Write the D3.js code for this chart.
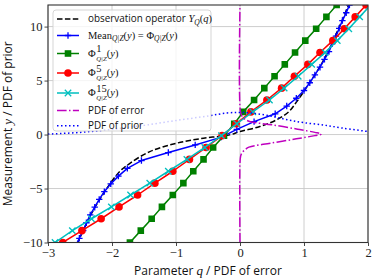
<!DOCTYPE html>
<html><head><meta charset="utf-8">
<script src="https://cdn.jsdelivr.net/npm/d3@7"></script>
<style>
html,body{margin:0;padding:0;background:#fff;}
svg{display:block;}
.tick text{font-family:"Liberation Serif","DejaVu Serif",serif;font-size:12.5px;fill:#222;}
.lab{font-family:"Open Sans","Noto Sans",sans-serif;font-size:12px;fill:#111;}
.leg{font-family:"Open Sans","Noto Sans",sans-serif;font-size:9.9px;fill:#111;}
.legm{font-family:"Liberation Serif","DejaVu Serif",serif;font-size:10.5px;fill:#111;}
</style></head>
<body><svg id="c" width="374" height="280"></svg>
<script>
// ---- data ----
const xTicks = [-3, -2, -1, 0, 1, 2];
const yTicks = [-10, -5, 0, 5, 10];
// observation operator Y_Q(q)
const obsQ = [-2.60, -2.45, -2.32, -2.18, -2.03, -1.95, -1.85, -1.72, -1.41, -0.99, -0.57, -0.16, 0.00, 0.31, 0.57, 0.76, 0.89, 1.02, 1.28, 1.46, 1.59, 1.74];
const obsY = [-10.8, -8.9, -7.3, -5.9, -4.55, -3.9, -3.25, -2.66, -1.58, -0.80, -0.34, -0.03, 0.28, 0.74, 1.36, 2.10, 3.07, 4.20, 6.60, 8.75, 10.5, 12.6];
// conditional mean
const meanY = [-10.33, -9.61, -8.89, -8.17, -7.45, -6.73, -6.01, -5.29, -4.57, -3.85, -3.13, -2.41, -1.67, -0.96, -0.24, 0.48, 1.20, 1.92, 2.64, 3.36, 4.08, 4.80, 5.52, 6.24, 6.96, 7.68, 8.40, 9.12, 9.84, 10.56, 11.28, 12.00, 12.72];
const meanQ = [-2.57, -2.51, -2.45, -2.40, -2.34, -2.27, -2.20, -2.12, -2.02, -1.90, -1.76, -1.54, -1.12, -0.70, -0.29, -0.05, 0.22, 0.55, 0.73, 0.88, 1.00, 1.09, 1.17, 1.25, 1.32, 1.39, 1.44, 1.50, 1.55, 1.60, 1.66, 1.71, 1.76];
// Phi curves on measurement grid
const phiY = [-11.1, -10.0, -8.9, -7.8, -6.7, -5.6, -4.5, -3.4, -2.3, -1.2, -0.1, 1.0, 2.1, 3.2, 4.3, 5.4, 6.5, 7.6, 8.7, 9.8, 10.9, 12.0, 13.1];
const phi1Q = [-1.88, -1.72, -1.55, -1.38, -1.22, -1.05, -0.885, -0.73, -0.57, -0.42, -0.25, -0.09, 0.05, 0.22, 0.38, 0.54, 0.70, 0.86, 1.02, 1.19, 1.35, 1.51, 1.67];
const phi5Q = [-3.05, -2.77, -2.47, -2.17, -1.89, -1.60, -1.33, -1.05, -0.79, -0.53, -0.28, -0.06, 0.17, 0.42, 0.65, 0.85, 1.06, 1.25, 1.45, 1.63, 1.80, 1.97, 2.15];
const phi15Q = [-3.15, -2.89, -2.62, -2.32, -2.01, -1.71, -1.41, -1.12, -0.83, -0.55, -0.29, -0.05, 0.20, 0.46, 0.69, 0.91, 1.12, 1.33, 1.52, 1.70, 1.87, 2.04, 2.20];
// PDF of error (value on q axis, over y)
const errY = [-10, -2.6, -2.0, -1.7, -1.45, -1.17, -0.8, -0.4, -0.1, 0.04, 0.2, 0.5, 0.9, 1.21, 1.45, 1.7, 2.2, 12];
const errPdf = [0, 0, 0.01, 0.03, 0.07, 0.14, 0.48, 0.88, 1.17, 1.27, 1.17, 0.90, 0.50, 0.15, 0.07, 0.03, 0.005, 0];
// PDF of prior (over q)
const priQ = [-3.0, -2.5, -2.0, -1.5, -1.0, -0.5, -0.2, 0.0, 0.2, 0.4, 0.6, 0.8, 1.0, 1.3, 1.6, 2.0];
const priPdf = [0.04, 0.20, 0.48, 0.85, 1.30, 1.72, 2.00, 2.05, 1.98, 1.80, 1.55, 1.30, 1.10, 0.88, 0.60, 0.28];

// ---- layout ----
const svg = d3.select("#c");
const X0 = 48, X1 = 368, Y0 = 5, Y1 = 242.5;
const x = d3.scaleLinear().domain([-3, 2]).range([X0, X1]);
const y = d3.scaleLinear().domain([-10, 12]).range([Y1, Y0]);

svg.append("defs").append("clipPath").attr("id","clip")
  .append("rect").attr("x",X0).attr("y",Y0).attr("width",X1-X0).attr("height",Y1-Y0);

// grid
const g = svg.append("g");
g.selectAll(".gx").data(xTicks).enter().append("line")
  .attr("x1",d=>x(d)).attr("x2",d=>x(d)).attr("y1",Y0).attr("y2",Y1)
  .attr("stroke","#c8c8c8").attr("stroke-width",0.9);
g.selectAll(".gy").data(yTicks).enter().append("line")
  .attr("y1",d=>y(d)).attr("y2",d=>y(d)).attr("x1",X0).attr("x2",X1)
  .attr("stroke","#c8c8c8").attr("stroke-width",0.9);

const fmt = d => d < 0 ? "\u2212" + Math.abs(d) : String(d);
const xa = svg.append("g").attr("transform",`translate(0,${Y1})`)
  .call(d3.axisBottom(x).tickValues(xTicks).tickFormat(fmt).tickSize(3.5).tickPadding(2));
const ya = svg.append("g").attr("transform",`translate(${X0},0)`)
  .call(d3.axisLeft(y).tickValues(yTicks).tickFormat(fmt).tickSize(3.5).tickPadding(2));
[xa,ya].forEach(a=>{a.select(".domain").remove(); a.selectAll(".tick line").attr("stroke","#333").attr("stroke-width",0.9);});

const plot = svg.append("g").attr("clip-path","url(#clip)");
const zipQY = (qs, ys) => qs.map((q,i)=>[q, ys[i]]);
const lineLin = d3.line().x(d=>x(d[0])).y(d=>y(d[1]));
const lineSm = d3.line().x(d=>x(d[0])).y(d=>y(d[1])).curve(d3.curveCatmullRom);

function addLine(data, color, dash, smooth){
  plot.append("path").datum(data).attr("d", smooth ? lineSm : lineLin)
    .attr("fill","none").attr("stroke",color).attr("stroke-width",1.5)
    .attr("stroke-dasharray",dash||null).attr("stroke-linejoin","round");
}
function markerPath(type, s){
  if(type==="plus") return `M${-s},0H${s}M0,${-s}V${s}`;
  if(type==="x") return `M${-s},${-s}L${s},${s}M${-s},${s}L${s},${-s}`;
  if(type==="sq") return `M${-s},${-s}H${s}V${s}H${-s}Z`;
  return null;
}
function addMarkers(parent, data, type, color){
  const sel = parent.selectAll(null).data(data).enter();
  if(type==="circle"){
    sel.append("circle").attr("cx",d=>x(d[0])).attr("cy",d=>y(d[1])).attr("r",3.8).attr("fill",color);
  } else if(type==="sq"){
    sel.append("path").attr("transform",d=>`translate(${x(d[0])},${y(d[1])})`).attr("d",markerPath("sq",3.3)).attr("fill",color);
  } else {
    sel.append("path").attr("transform",d=>`translate(${x(d[0])},${y(d[1])})`).attr("d",markerPath(type,3.2))
      .attr("stroke",color).attr("stroke-width",1.3).attr("fill","none");
  }
}

const obs = zipQY(obsQ, obsY);
const mean = zipQY(meanQ, meanY);
const p1 = zipQY(phi1Q, phiY), p5 = zipQY(phi5Q, phiY), p15 = zipQY(phi15Q, phiY);
const err = zipQY(errPdf, errY);
const pri = zipQY(priQ, priPdf);

addLine(obs, "#000", "5.5,2.4", true);
addLine(mean, "#0000ff", null, false); addMarkers(plot, mean, "plus", "#0000ff");
addLine(p1, "#008000", null, false); addMarkers(plot, p1, "sq", "#008000");
addLine(p5, "#ff0000", null, false); addMarkers(plot, p5, "circle", "#ff0000");
addLine(p15, "#00bfbf", null, false); addMarkers(plot, p15, "x", "#00bfbf");
addLine(err, "#bf00bf", "9.6,2.4,1.5,2.4", true);
addLine(pri, "#0000ff", "1.5,2.5", true);

// frame
svg.append("rect").attr("x",X0).attr("y",Y0).attr("width",X1-X0).attr("height",Y1-Y0)
  .attr("fill","none").attr("stroke","#333").attr("stroke-width",1.1);

// axis labels
svg.append("text").attr("class","lab").attr("x",(X0+X1)/2).attr("y",275).attr("text-anchor","middle")
  .html('Parameter <tspan font-family="Liberation Serif,serif" font-style="italic" font-size="13px">q</tspan> / PDF of error');
svg.append("text").attr("class","lab").attr("transform",`translate(12,${(Y0+Y1)/2}) rotate(-90)`).attr("text-anchor","middle")
  .html('Measurement <tspan font-family="Liberation Serif,serif" font-style="italic" font-size="13px">y</tspan> / PDF of prior');

// legend
const L = svg.append("g");
L.append("rect").attr("x",53).attr("y",10).attr("width",158).attr("height",121).attr("rx",3)
  .attr("fill","#fff").attr("fill-opacity",0.8).attr("stroke","#d0d0d0").attr("stroke-width",0.9);
const rows = [19, 35.5, 53.5, 73, 93, 110.5, 125.7];
const hx0 = 57, hx1 = 79, hxm = 68, tx = 88;
function legLine(ry, color, dash){
  L.append("line").attr("x1",hx0).attr("x2",hx1).attr("y1",ry).attr("y2",ry)
   .attr("stroke",color).attr("stroke-width",1.5).attr("stroke-dasharray",dash||null);
}
legLine(rows[0], "#000", "5.5,2.4");
legLine(rows[1], "#0000ff"); addMarkers(L, [[x.invert(hxm), y.invert(rows[1])]], "plus", "#0000ff");
legLine(rows[2], "#008000"); addMarkers(L, [[x.invert(hxm), y.invert(rows[2])]], "sq", "#008000");
legLine(rows[3], "#ff0000"); addMarkers(L, [[x.invert(hxm), y.invert(rows[3])]], "circle", "#ff0000");
legLine(rows[4], "#00bfbf"); addMarkers(L, [[x.invert(hxm), y.invert(rows[4])]], "x", "#00bfbf");
legLine(rows[5], "#bf00bf", "9.6,2.4,1.5,2.4");
legLine(rows[6], "#0000ff", "1.5,2.5");

const it = 'font-style="italic"';
const sub = (t) => `<tspan dy="2.5" font-size="7.5px" ${it}>${t}</tspan>`;
L.append("text").attr("class","leg").attr("x",tx).attr("y",rows[0]+3.4)
  .html(`observation operator <tspan font-family="Liberation Serif,serif" font-size="10.5px"><tspan ${it}>Y</tspan>${sub("Q")}<tspan dy="-2.5">(</tspan><tspan ${it}>q</tspan>)</tspan>`);
L.append("text").attr("class","legm").attr("x",tx).attr("y",rows[1]+3.4)
  .html(`Mean${sub("Q|Z")}<tspan dy="-2.5">(</tspan><tspan ${it}>y</tspan>) = Φ${sub("Q|Z")}<tspan dy="-2.5">(</tspan><tspan ${it}>y</tspan>)`);
[["1",2],["5",3],["15",4]].forEach(([s,r])=>{
  const b = rows[r]+3.4;
  L.append("text").attr("class","legm").attr("x",tx).attr("y",b)
   .html(`Φ<tspan x="${tx+8.2}" y="${b+3.6}" font-size="6.8px" ${it}>Q|Z</tspan><tspan y="${b}">(</tspan><tspan ${it}>y</tspan>)`);
  L.append("text").attr("class","legm").attr("x",tx+8.2).attr("y",b-4.8).attr("font-size","6.3px").text(s);
});
L.append("text").attr("class","leg").attr("x",tx).attr("y",rows[5]+3.4).text("PDF of error");
L.append("text").attr("class","leg").attr("x",tx).attr("y",rows[6]+3.4).text("PDF of prior");
</script></body></html>
